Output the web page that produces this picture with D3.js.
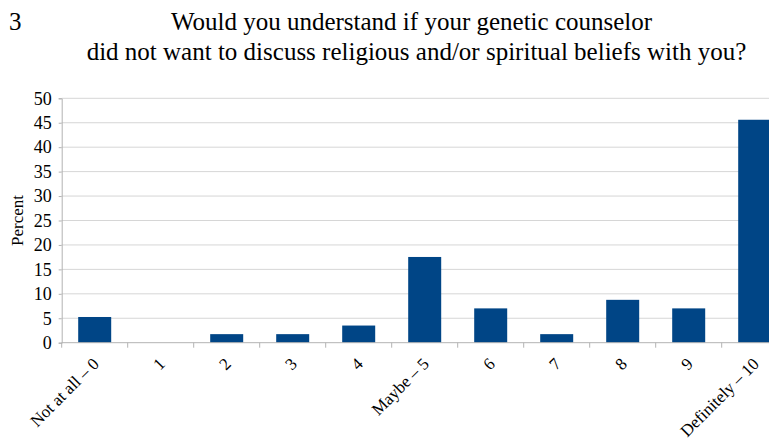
<!DOCTYPE html>
<html>
<head>
<meta charset="utf-8">
<script src="https://cdn.jsdelivr.net/npm/d3@7"></script>
<style>
  html, body { margin: 0; padding: 0; background: #fff; }
  svg { display: block; }
  svg text { font-family: "Liberation Serif", "DejaVu Serif", serif; fill: #000; }
</style>
</head>
<body>
<svg id="chart" width="769" height="442"></svg>
<script>
// Answer scale categories and share of respondents (percent)
const categories = ["Not at all \u2013 0", "1", "2", "3", "4", "Maybe \u2013 5", "6", "7", "8", "9", "Definitely \u2013 10"];
const percents = [5.26, 0, 1.75, 1.75, 3.51, 17.54, 7.02, 1.75, 8.77, 7.02, 45.61];
const yTicks = [0, 5, 10, 15, 20, 25, 30, 35, 40, 45, 50];
const titleLines = ["Would you understand if your genetic counselor", "did not want to discuss religious and/or spiritual beliefs with you?"];
const panelLabel = "3";
const yLabel = "Percent";

const FONT = "Liberation Serif";
const svg = d3.select("#chart");
const plotLeft = 61.7, plotTop = 98.3, plotBottom = 342.7, band = 66;

const x = d3.scaleBand()
  .domain(categories)
  .range([plotLeft, plotLeft + band * categories.length])
  .paddingInner(0.5)
  .paddingOuter(0.25);
const y = d3.scaleLinear().domain([0, 50]).range([plotBottom, plotTop]);

// Horizontal grid lines
svg.append("g").selectAll("line")
  .data(yTicks.filter(d => d > 0))
  .join("line")
  .attr("x1", plotLeft).attr("x2", 769)
  .attr("y1", d => y(d)).attr("y2", d => y(d))
  .attr("stroke", "#d6d6d6").attr("stroke-width", 1);

// Bars
svg.append("g").selectAll("rect")
  .data(percents)
  .join("rect")
  .attr("x", (d, i) => x(categories[i]))
  .attr("width", x.bandwidth())
  .attr("y", d => y(d))
  .attr("height", d => y(0) - y(d))
  .attr("fill", "#004586");

// Y axis
const yAxis = d3.axisLeft(y).tickValues(yTicks).tickSize(3).tickPadding(7);
const gy = svg.append("g").attr("transform", `translate(${plotLeft},0)`).call(yAxis)
  .attr("font-family", FONT).attr("font-size", 18);
gy.select(".domain").attr("stroke", "#b3b3b3");
gy.selectAll(".tick line").attr("stroke", "#b3b3b3");
gy.selectAll(".tick text").attr("fill", "#000").attr("font-family", FONT).attr("font-size", 18);

// X axis: baseline, boundary ticks, rotated labels
svg.append("line")
  .attr("x1", plotLeft).attr("x2", 769)
  .attr("y1", plotBottom).attr("y2", plotBottom)
  .attr("stroke", "#b3b3b3");
const bounds = d3.range(categories.length + 1).map(i => plotLeft + i * band);
svg.append("g").selectAll("line")
  .data(bounds)
  .join("line")
  .attr("x1", d => d).attr("x2", d => d)
  .attr("y1", plotBottom).attr("y2", plotBottom + 5)
  .attr("stroke", "#b3b3b3");
svg.append("g").selectAll("text")
  .data(categories)
  .join("text")
  .attr("transform", d => `translate(${x(d) + x.bandwidth() / 2 + 1},${plotBottom + 18}) rotate(-45)`)
  .attr("text-anchor", "end")
  .attr("dy", "0.35em")
  .attr("font-family", FONT)
  .attr("font-size", 17)
  .text(d => d);

// Y axis title
svg.append("text")
  .attr("transform", `translate(23,${(plotTop + plotBottom) / 2}) rotate(-90)`)
  .attr("text-anchor", "middle")
  .attr("font-family", FONT)
  .attr("font-size", 17)
  .text(yLabel);

// Title
svg.append("text")
  .attr("x", 9).attr("y", 30)
  .attr("font-family", FONT)
  .attr("font-size", 25)
  .text(panelLabel);
svg.append("g").selectAll("text")
  .data(titleLines)
  .join("text")
  .attr("x", (d, i) => i === 0 ? 411.5 : 416.5)
  .attr("y", (d, i) => 30 + i * 29.5)
  .attr("text-anchor", "middle")
  .attr("font-family", FONT)
  .attr("font-size", 25)
  .text(d => d);
</script>
</body>
</html>
